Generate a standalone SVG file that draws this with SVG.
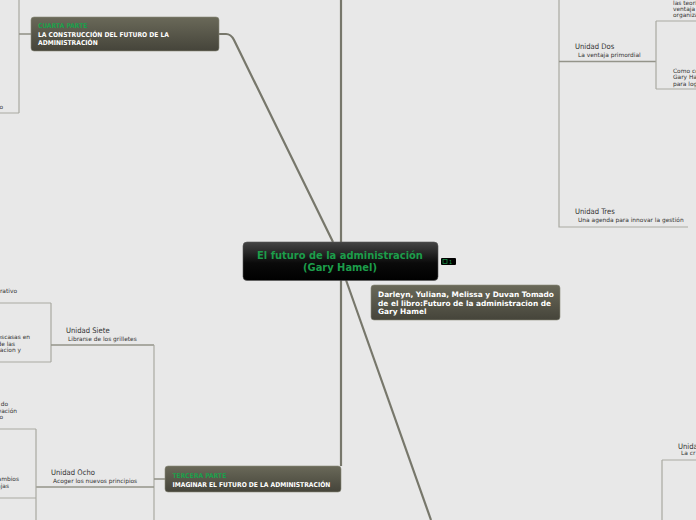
<svg xmlns="http://www.w3.org/2000/svg" width="696" height="520" viewBox="0 0 696 520">
<defs>
<linearGradient id="gNode" x1="0" y1="0" x2="0" y2="1">
<stop offset="0" stop-color="#6a6959"/>
<stop offset="1" stop-color="#45443a"/>
</linearGradient>
<linearGradient id="gMain" x1="0" y1="0" x2="0" y2="1">
<stop offset="0" stop-color="#444444"/>
<stop offset="0.55" stop-color="#0a0a0a"/>
<stop offset="1" stop-color="#000000"/>
</linearGradient>
</defs>
<style>
.main{stroke:#77776b;stroke-width:2.2;fill:none}
.br{stroke:#a9a9a1;stroke-width:1.2;fill:none}
.brk{stroke:#94948a;stroke-width:1.6;fill:none}
.node{fill:url(#gNode);stroke:#8a897a;stroke-width:0.6}
.t{font-family:"DejaVu Sans Condensed","DejaVu Sans",sans-serif}
.nh{font-family:"DejaVu Sans Condensed","DejaVu Sans",sans-serif;font-weight:bold;font-size:6.7px;fill:#1aa04b}
.nt{font-family:"DejaVu Sans Condensed","DejaVu Sans",sans-serif;font-weight:bold;font-size:6.7px;fill:#ffffff}
.nb{font-family:"DejaVu Sans",sans-serif;font-weight:bold;font-size:7.4px;fill:#ffffff}
.u{font-family:"DejaVu Sans Condensed","DejaVu Sans",sans-serif;font-size:7.6px;fill:#333333}
.s{font-family:"DejaVu Sans",sans-serif;font-size:5.9px;fill:#333333}
</style>
<rect x="0" y="0" width="696" height="520" fill="#e8e8e8"/>
<g id="connectors">
<path class="main" d="M219,34 L226,34 Q231,34 234,40 L333,242"/>
<path class="main" d="M341,0 L341,242"/>
<path class="main" d="M341,280 L341,466"/>
<path class="main" d="M346,280 L431,520"/>
<path class="br" d="M19,0 L19,113 M0,113 L19,113"/>
<path class="brk" d="M19,34 L31,34"/>
<path class="br" d="M559,0 L559,227 L688,227"/>
<path class="brk" d="M559,61.5 L656,61.5"/>
<path class="br" d="M656,21 L656,89 M656,21 L696,21 M656,89 L696,89"/>
<path class="br" d="M51,303 L51,362 M0,303 L51,303 M0,362 L51,362"/>
<path class="brk" d="M51,345 L154,345"/>
<path class="br" d="M154,345 L154,520"/>
<path class="brk" d="M154,479 L165,479"/>
<path class="brk" d="M36,487 L154,487"/>
<path class="br" d="M36,429 L36,520 M0,429 L36,429 M0,498 L36,498"/>
<path class="br" d="M662,460 L662,520 M662,460 L696,460"/>
</g>
<g id="center">
<rect x="243" y="242" width="195" height="38.5" rx="4" fill="url(#gMain)" stroke="#555" stroke-width="0.6"/>
<text class="t" x="340" y="259" text-anchor="middle" font-size="11" font-weight="bold" fill="#1c9d4a">El futuro de la administración</text>
<text class="t" x="340" y="270.5" text-anchor="middle" font-size="11" font-weight="bold" fill="#1c9d4a">(Gary Hamel)</text>
</g>
<g id="badge">
<rect x="441" y="258" width="15" height="7" rx="1" fill="#000"/>
<rect x="443" y="259.5" width="4" height="4" fill="none" stroke="#1c9d4a" stroke-width="0.7"/>
<text class="t" x="449" y="264" font-size="5.5" fill="#1c9d4a">1</text>
</g>
<g id="cuarta">
<rect class="node" x="31" y="17" width="188" height="34" rx="3"/>
<text class="nh" x="38" y="28">CUARTA PARTE</text>
<text class="nt" x="38" y="37">LA CONSTRUCCIÓN DEL FUTURO DE LA</text>
<text class="nt" x="38" y="45">ADMINISTRACIÓN</text>
</g>
<g id="tercera">
<rect class="node" x="165" y="466" width="176" height="26" rx="3"/>
<text class="nh" x="172.5" y="478">TERCERA PARTE</text>
<text class="nt" x="172.5" y="486.5">IMAGINAR EL FUTURO DE LA ADMINISTRACIÓN</text>
</g>
<g id="autores">
<rect class="node" x="371" y="285" width="189" height="35" rx="3"/>
<text class="nb" x="378" y="297">Darleyn, Yuliana, Melissa y Duvan Tomado</text>
<text class="nb" x="378" y="305.5">de el libro:Futuro de la administracion de</text>
<text class="nb" x="378" y="314">Gary Hamel</text>
</g>
<g id="unidad-dos">
<text class="u" x="575" y="49">Unidad Dos</text>
<text class="s" x="578" y="57">La ventaja primordial</text>
</g>
<g id="nota-teorias">
<text class="s" x="673" y="4.5">las teorí</text>
<text class="s" x="673" y="10.5">ventaja -</text>
<text class="s" x="673" y="17">organiza</text>
</g>
<g id="nota-como">
<text class="s" x="673" y="72.5">Como co</text>
<text class="s" x="673" y="79">Gary Ha</text>
<text class="s" x="673" y="85.5">para log</text>
</g>
<g id="unidad-tres">
<text class="u" x="575" y="213.5">Unidad Tres</text>
<text class="s" x="578" y="221.5">Una agenda para innovar la gestión</text>
</g>
<g id="nota-o">
<text class="s" x="3" y="109" text-anchor="end">o</text>
</g>
<g id="unidad-siete">
<text class="u" x="66" y="333">Unidad Siete</text>
<text class="s" x="68" y="340.5">Librarse de los grilletes</text>
</g>
<g id="nota-crativo">
<text class="s" x="17" y="293" text-anchor="end">crativo</text>
</g>
<g id="nota-escasas">
<text class="s" x="30" y="339" text-anchor="end">escasas en</text>
<text class="s" x="15" y="345.5" text-anchor="end">de las</text>
<text class="s" x="21" y="352" text-anchor="end">vacion y</text>
</g>
<g id="unidad-ocho">
<text class="u" x="51" y="475">Unidad Ocho</text>
<text class="s" x="53" y="482.5">Acoger los nuevos principios</text>
</g>
<g id="nota-do">
<text class="s" x="8" y="406" text-anchor="end">do</text>
<text class="s" x="17" y="412.5" text-anchor="end">vación</text>
<text class="s" x="3" y="419" text-anchor="end">o</text>
</g>
<g id="nota-cambios">
<text class="s" x="19" y="481" text-anchor="end">ambios</text>
<text class="s" x="9" y="487.5" text-anchor="end">ajas</text>
</g>
<g id="unidad-br">
<text class="u" x="678" y="449">Unida</text>
<text class="s" x="681" y="455">La cr</text>
</g>
</svg>
